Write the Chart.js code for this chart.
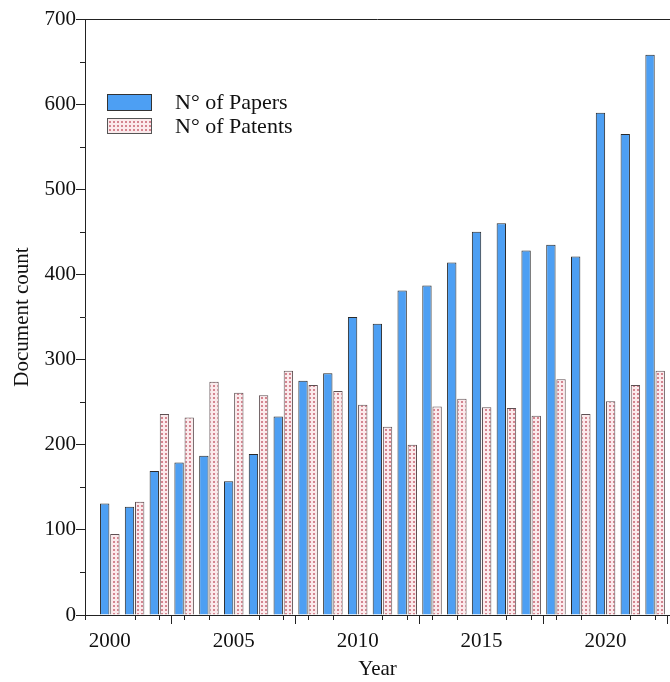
<!DOCTYPE html>
<html>
<head>
<meta charset="utf-8">
<script src="https://cdn.jsdelivr.net/npm/chart.js@4/dist/chart.umd.min.js"></script>
<style>
  html, body { margin: 0; padding: 0; background: #fff; }
  #wrap { width: 670px; height: 682px; position: relative; }
</style>
</head>
<body>
<div id="wrap"><canvas id="c" width="670" height="682"></canvas></div>
<script>
// ---- Data ----
const years = [2000,2001,2002,2003,2004,2005,2006,2007,2008,2009,2010,2011,2012,2013,2014,2015,2016,2017,2018,2019,2020,2021,2022];
const papers = [131,127,169,179,187,157,189,233,275,284,350,342,381,387,414,450,460,428,435,421,590,565,658];
const patents = [95,133,236,232,274,261,258,287,270,263,247,221,200,245,254,244,243,234,277,236,251,270,287];
const xTickLabels = [2000,2005,2010,2015,2020];
const yTickLabels = [0,100,200,300,400,500,600,700];
const seriesNames = ['N\u00B0 of Papers','N\u00B0 of Patents'];
const xTitle = 'Year';
const yTitle = 'Document count';

// ---- Pattern for patents ----
function makePattern() {
  const p = document.createElement('canvas');
  p.width = 4; p.height = 4;
  const g = p.getContext('2d');
  g.fillStyle = '#fbeaec';
  g.fillRect(0,0,4,4);
  g.fillStyle = 'rgba(205,115,128,0.85)';
  g.fillRect(1,1,2,2);
  return document.getElementById('c').getContext('2d').createPattern(p,'repeat');
}
const pat = makePattern();
const blue = '#4d9ff3';
const serif = '"Liberation Serif", "Times New Roman", serif';

// ---- Plugin: minor ticks, top frame, legend ----
const decor = {
  id: 'decor',
  afterDraw(chart) {
    const ctx = chart.ctx, a = chart.chartArea;
    const xs = chart.scales.x, ys = chart.scales.y;
    ctx.save();
    ctx.strokeStyle = '#222';
    ctx.lineWidth = 1;
    ctx.beginPath();
    for (let v = Math.ceil(xs.min); v <= xs.max; v++) {
      if (xTickLabels.includes(v)) continue;
      const px = Math.round(xs.getPixelForValue(v)) + 0.5;
      ctx.moveTo(px, a.bottom); ctx.lineTo(px, a.bottom + 5);
    }
    for (let v = 50; v < ys.max; v += 100) {
      const py = Math.round(ys.getPixelForValue(v)) + 0.5;
      ctx.moveTo(a.left, py); ctx.lineTo(a.left - 5, py);
    }
    ctx.moveTo(a.left, a.top + 0.5); ctx.lineTo(a.right, a.top + 0.5);
    ctx.stroke();

    // legend
    const lx = a.left + 22, boxW = 45;
    const rows = [{y: a.top + 75, h: 17, fill: blue, stroke: '#333'},
                  {y: a.top + 99, h: 16, fill: pat, stroke: '#555'}];
    ctx.font = '22px ' + serif;
    ctx.textBaseline = 'middle';
    rows.forEach((r, i) => {
      ctx.fillStyle = r.fill;
      ctx.fillRect(lx, r.y, boxW, r.h);
      ctx.strokeStyle = r.stroke;
      ctx.strokeRect(lx + 0.5, r.y + 0.5, boxW - 1, r.h - 1);
      ctx.fillStyle = '#111';
      ctx.fillText(seriesNames[i], lx + 68, r.y + r.h / 2 + 1);
    });
    ctx.restore();
  }
};

new Chart(document.getElementById('c'), {
  type: 'bar',
  data: {
    datasets: [
      { label: seriesNames[0], data: years.map((y,i) => ({x: y, y: papers[i]})),
        backgroundColor: blue, borderColor: '#2a2a2a', borderWidth: 1,
        categoryPercentage: 0.82, barPercentage: 0.92 },
      { label: seriesNames[1], data: years.map((y,i) => ({x: y, y: patents[i]})),
        backgroundColor: pat, borderColor: '#5e4f52', borderWidth: 1,
        categoryPercentage: 0.82, barPercentage: 0.92 }
    ]
  },
  options: {
    responsive: false,
    animation: false,
    devicePixelRatio: 1,
    layout: { padding: { top: 19, right: 0, left: 0, bottom: 0 } },
    plugins: { legend: { display: false }, tooltip: { enabled: false } },
    scales: {
      x: {
        type: 'linear', offset: false, min: 1999, max: 2022.6,
        afterBuildTicks(s) { s.ticks = xTickLabels.map(v => ({value: v})); },
        afterFit(s) { s.height = 67; },
        border: { display: true, color: '#222', width: 1 },
        grid: { display: true, drawOnChartArea: false, drawTicks: true, tickLength: 9, color: '#222' },
        ticks: { font: { family: serif, size: 21 }, color: '#111', padding: 5, callback: v => String(v) },
        title: { display: true, text: xTitle, font: { family: serif, size: 21 }, color: '#111', padding: { top: 0, bottom: 0 } }
      },
      y: {
        min: 0, max: 700,
        afterBuildTicks(s) { s.ticks = yTickLabels.map(v => ({value: v})); },
        afterFit(s) { s.width = 85; },
        border: { display: true, color: '#222', width: 1 },
        grid: { display: true, drawOnChartArea: false, drawTicks: true, tickLength: 9, color: '#222' },
        ticks: { font: { family: serif, size: 21 }, color: '#111', padding: 0 },
        title: { display: true, text: yTitle, font: { family: serif, size: 21 }, color: '#111', padding: { top: 10, bottom: 0 } }
      }
    }
  },
  plugins: [decor]
});
</script>
</body>
</html>
